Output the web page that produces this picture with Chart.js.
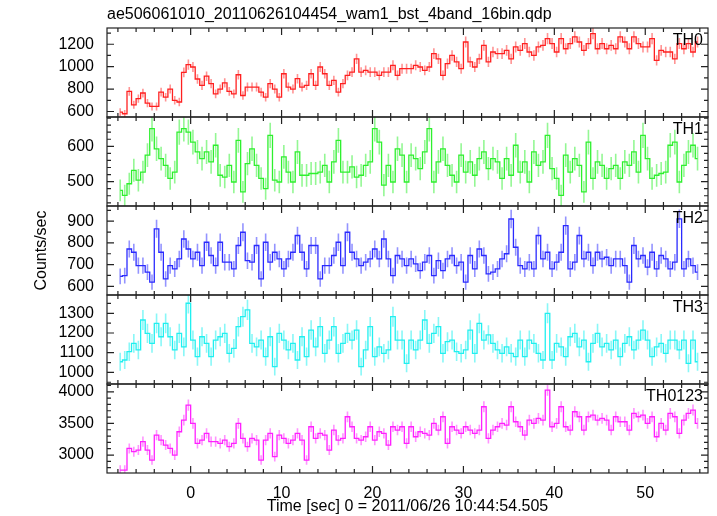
<!DOCTYPE html>
<html>
<head>
<meta charset="utf-8">
<title>WAM burst light curve</title>
<script src="https://cdn.jsdelivr.net/npm/chart.js@4.4.1/dist/chart.umd.min.js"></script>
<style>
  html, body { margin: 0; padding: 0; background: #fff; }
  #wrap { width: 717px; height: 516px; }
</style>
</head>
<body>
<div id="wrap"><canvas id="lc" width="717" height="516"></canvas></div>
<script>
// --- Données ---

// centres des bins (16 x 1/32 s = 0.5 s)
const TIME = [
  -7.75, -7.25, -6.75, -6.25, -5.75, -5.25, -4.75, -4.25, -3.75, -3.25, -2.75, -2.25, -1.75, -1.25, -0.75, -0.25,
  0.25, 0.75, 1.25, 1.75, 2.25, 2.75, 3.25, 3.75, 4.25, 4.75, 5.25, 5.75, 6.25, 6.75, 7.25, 7.75,
  8.25, 8.75, 9.25, 9.75, 10.25, 10.75, 11.25, 11.75, 12.25, 12.75, 13.25, 13.75, 14.25, 14.75, 15.25, 15.75,
  16.25, 16.75, 17.25, 17.75, 18.25, 18.75, 19.25, 19.75, 20.25, 20.75, 21.25, 21.75, 22.25, 22.75, 23.25, 23.75,
  24.25, 24.75, 25.25, 25.75, 26.25, 26.75, 27.25, 27.75, 28.25, 28.75, 29.25, 29.75, 30.25, 30.75, 31.25, 31.75,
  32.25, 32.75, 33.25, 33.75, 34.25, 34.75, 35.25, 35.75, 36.25, 36.75, 37.25, 37.75, 38.25, 38.75, 39.25, 39.75,
  40.25, 40.75, 41.25, 41.75, 42.25, 42.75, 43.25, 43.75, 44.25, 44.75, 45.25, 45.75, 46.25, 46.75, 47.25, 47.75,
  48.25, 48.75, 49.25, 49.75, 50.25, 50.75, 51.25, 51.75, 52.25, 52.75, 53.25, 53.75, 54.25, 54.75, 55.25, 55.75
];
const BIN_SEC = 0.5;

const TH0 = [
  595, 580, 780, 660, 715, 765, 675, 645, 645, 773, 728, 800, 700, 685, 950, 1018,
  997, 890, 833, 915, 848, 758, 800, 855, 780, 758, 928, 743, 818, 818, 818, 773,
  728, 848, 800, 728, 937, 818, 800, 893, 818, 833, 937, 833, 997, 937, 833, 878,
  773, 848, 922, 952, 1070, 952, 967, 952, 952, 922, 952, 952, 1012, 922, 982, 982,
  982, 1012, 997, 967, 997, 1116, 1070, 922, 1027, 1100, 1042, 982, 1220, 1042, 997, 1070,
  1190, 1042, 1131, 1116, 1116, 1146, 1070, 1176, 1146, 1206, 1131, 1100, 1176, 1190, 1250, 1206,
  1131, 1250, 1160, 1206, 1265, 1220, 1146, 1206, 1295, 1160, 1206, 1160, 1190, 1160, 1265, 1220,
  1160, 1265, 1206, 1176, 1176, 1250, 1057, 1146, 1131, 1131, 1070, 1206, 1160, 1206, 1131, 1220
];
const TH1 = [
  475, 461, 494, 532, 504, 527, 575, 650, 593, 565, 546, 509, 527, 640, 650, 640,
  612, 584, 565, 584, 556, 603, 518, 513, 546, 499, 617, 471, 551, 593, 546, 509,
  480, 631, 504, 499, 570, 527, 499, 584, 518, 518, 523, 523, 527, 546, 499, 556,
  617, 527, 527, 542, 513, 518, 546, 556, 650, 612, 490, 546, 499, 593, 575, 499,
  575, 565, 537, 584, 650, 499, 556, 593, 546, 518, 499, 575, 527, 556, 518, 565,
  584, 537, 565, 556, 509, 565, 518, 603, 527, 556, 499, 584, 546, 556, 631, 537,
  509, 461, 575, 527, 565, 546, 471, 612, 509, 556, 546, 509, 537, 546, 509, 556,
  546, 584, 527, 631, 565, 509, 518, 523, 527, 603, 612, 499, 546, 584, 603, 565
];
const TH2 = [
  646, 649, 772, 757, 695, 695, 665, 619, 865, 757, 634, 695, 680, 726, 818, 772,
  726, 757, 695, 803, 742, 695, 803, 711, 711, 680, 788, 849, 718, 711, 788, 634,
  803, 711, 757, 726, 680, 726, 757, 834, 757, 680, 788, 788, 634, 695, 695, 742,
  803, 695, 849, 757, 726, 695, 711, 726, 772, 726, 818, 726, 649, 742, 726, 695,
  726, 703, 672, 711, 742, 649, 718, 672, 726, 742, 695, 711, 619, 742, 680, 772,
  742, 657, 665, 680, 726, 750, 910, 780, 695, 680, 711, 680, 834, 726, 757, 680,
  711, 757, 880, 680, 711, 834, 726, 757, 695, 757, 726, 734, 695, 726, 726, 695,
  619, 788, 726, 742, 688, 757, 680, 742, 726, 680, 711, 911, 680, 726, 695, 665
];
const TH3 = [
  1054, 1063, 1105, 1147, 1114, 1266, 1198, 1147, 1249, 1181, 1249, 1181, 1114, 1198, 1130, 1351,
  1164, 1080, 1181, 1147, 1080, 1164, 1181, 1198, 1097, 1122, 1232, 1283, 1317, 1147, 1130, 1164,
  1080, 1181, 1029, 1198, 1164, 1114, 1147, 1063, 1181, 1080, 1215, 1130, 1232, 1097, 1164, 1232,
  1097, 1147, 1198, 1164, 1215, 1029, 1114, 1232, 1080, 1130, 1097, 1114, 1283, 1164, 1164, 1046,
  1164, 1114, 1164, 1266, 1147, 1198, 1232, 1097, 1156, 1164, 1105, 1097, 1114, 1215, 1097, 1249,
  1164, 1190, 1147, 1114, 1097, 1130, 1097, 1080, 1164, 1080, 1164, 1147, 1097, 1063, 1300, 1063,
  1147, 1130, 1080, 1181, 1198, 1130, 1164, 1054, 1147, 1198, 1130, 1147, 1114, 1164, 1080, 1147,
  1181, 1114, 1164, 1215, 1164, 1080, 1130, 1147, 1097, 1164, 1164, 1114, 1164, 1046, 1164, 1054
];
const TH0123 = [
  2763, 2763, 3105, 3053, 3079, 3211, 3079, 2921, 3316, 3237, 3158, 3105, 3000, 3368, 3553, 3789,
  3500, 3184, 3237, 3342, 3211, 3211, 3184, 3237, 3132, 3184, 3500, 3263, 3132, 3263, 3237, 2921,
  3237, 3342, 2974, 3316, 3263, 3184, 3237, 3342, 3237, 2921, 3447, 3263, 3342, 3316, 3079, 3395,
  3237, 3263, 3605, 3447, 3263, 3237, 3289, 3447, 3237, 3368, 3342, 3158, 3447, 3395, 3447, 3184,
  3447, 3289, 3368, 3342, 3316, 3500, 3395, 3605, 3184, 3447, 3395, 3342, 3447, 3395, 3342, 3395,
  3763, 3263, 3395, 3447, 3500, 3474, 3763, 3526, 3447, 3316, 3553, 3500, 3579, 3553, 4026, 3447,
  3500, 3763, 3447, 3395, 3684, 3605, 3395, 3605, 3632, 3553, 3579, 3553, 3395, 3605, 3526, 3526,
  3395, 3658, 3605, 3632, 3500, 3605, 3289, 3500, 3395, 3658, 3605, 3342, 3553, 3658, 3711, 3500
];

// graduations
const X_TICKS = [0, 10, 20, 30, 40, 50];
const TH0_TICKS = [600, 800, 1000, 1200];
const TH1_TICKS = [500, 600];
const TH2_TICKS = [600, 700, 800, 900];
const TH3_TICKS = [1000, 1100, 1200, 1300];
const TH0123_TICKS = [3000, 3500, 4000];

const TITLE = 'ae506061010_20110626104454_wam1_bst_4band_16bin.qdp';
const X_TITLE = 'Time [sec] 0 = 2011/06/26 10:44:54.505';
const Y_TITLE = 'Counts/sec';

// --- Mise en forme ---

const FONT = '"Liberation Sans", Arial, Helvetica, sans-serif';

const panels = [
  { id: 'yTH0',    name: 'TH0',    values: TH0,    ticks: TH0_TICKS,    minor: 100, min: 551,  max: 1345, line: '#ff2020', err: 'rgba(255,60,60,0.55)' },
  { id: 'yTH1',    name: 'TH1',    values: TH1,    ticks: TH1_TICKS,    minor: 20,  min: 431,  max: 683,  line: '#2ef02e', err: 'rgba(60,240,60,0.55)' },
  { id: 'yTH2',    name: 'TH2',    values: TH2,    ticks: TH2_TICKS,    minor: 50,  min: 560,  max: 970,  line: '#2a2aff', err: 'rgba(60,60,255,0.55)' },
  { id: 'yTH3',    name: 'TH3',    values: TH3,    ticks: TH3_TICKS,    minor: 50,  min: 941,  max: 1393, line: '#20f0f0', err: 'rgba(40,240,240,0.55)' },
  { id: 'yTH0123', name: 'TH0123', values: TH0123, ticks: TH0123_TICKS, minor: 100, min: 2716, max: 4123, line: '#ff20ff', err: 'rgba(255,60,255,0.55)' }
];

const scales = {
  x: {
    type: 'linear',
    position: 'bottom',
    min: -9.2,
    max: 56.9,
    grid: { display: false },
    border: { display: false },
    afterBuildTicks: s => { s.ticks = X_TICKS.map(v => ({ value: v })); },
    afterFit: s => { s.height = 43; },
    ticks: { color: '#000', padding: 3, autoSkip: false, maxRotation: 0, font: { family: FONT, size: 16 }, callback: v => String(v) }
  }
};

panels.forEach((p, k) => {
  scales[p.id] = {
    type: 'linear',
    position: 'left',
    stack: 'lc',
    stackWeight: 1,
    weight: panels.length - k,   // le premier panneau en haut
    min: p.min,
    max: p.max,
    grid: { display: false },
    border: { display: false },
    afterBuildTicks: s => { s.ticks = p.ticks.map(v => ({ value: v })); },
    afterFit: s => { s.width = 107; },
    ticks: { color: '#000', padding: 5, autoSkip: false, font: { family: FONT, size: 16 }, callback: v => String(v) }
  };
});

const datasets = panels.map(p => ({
  label: p.name,
  yAxisID: p.id,
  data: TIME.map((t, i) => ({ x: t, y: p.values[i] })),
  borderColor: p.line,
  borderWidth: 1.3,
  pointRadius: 0,
  stepped: 'middle',
  errColor: p.err,
  fill: false
}));

// Barres d'erreur (Poisson), cadres, graduations internes et textes façon QDP
const qdpFrame = {
  id: 'qdpFrame',
  beforeDatasetsDraw(chart) {
    const ctx = chart.ctx;
    const xs = chart.scales.x;
    const area = chart.chartArea;
    chart.data.datasets.forEach(ds => {
      const ys = chart.scales[ds.yAxisID];
      ctx.save();
      ctx.beginPath();
      ctx.rect(area.left, ys.top, area.right - area.left, ys.bottom - ys.top);
      ctx.clip();
      ctx.strokeStyle = ds.errColor;
      ctx.lineWidth = 1.6;
      ctx.beginPath();
      ds.data.forEach(pt => {
        const e = Math.sqrt(pt.y / BIN_SEC);
        const x = xs.getPixelForValue(pt.x);
        ctx.moveTo(x, ys.getPixelForValue(pt.y + e));
        ctx.lineTo(x, ys.getPixelForValue(pt.y - e));
      });
      ctx.stroke();
      ctx.restore();
    });
  },
  afterDraw(chart) {
    const ctx = chart.ctx;
    const xs = chart.scales.x;
    const area = chart.chartArea;
    ctx.save();
    ctx.strokeStyle = '#222';
    ctx.lineWidth = 1.2;

    panels.forEach(p => {
      const ys = chart.scales[p.id];
      const top = ys.top, bottom = ys.bottom;
      ctx.strokeRect(area.left, top, area.right - area.left, bottom - top);

      ctx.beginPath();
      // graduations Y (gauche et droite, vers l'intérieur)
      const first = Math.ceil(p.min / p.minor);
      const last = Math.floor(p.max / p.minor);
      for (let k = first; k <= last; k++) {
        const v = k * p.minor;
        const len = p.ticks.includes(v) ? 7 : 4;
        const y = ys.getPixelForValue(v);
        ctx.moveTo(area.left, y); ctx.lineTo(area.left + len, y);
        ctx.moveTo(area.right, y); ctx.lineTo(area.right - len, y);
      }
      // graduations X (haut et bas de chaque panneau)
      for (let k = Math.ceil(xs.min / 2); k <= Math.floor(xs.max / 2); k++) {
        const t = k * 2;
        const len = X_TICKS.includes(t) ? 7 : 4;
        const x = xs.getPixelForValue(t);
        ctx.moveTo(x, top); ctx.lineTo(x, top + len);
        ctx.moveTo(x, bottom); ctx.lineTo(x, bottom - len);
      }
      ctx.stroke();

      ctx.fillStyle = '#000';
      ctx.font = '16px ' + FONT;
      ctx.textAlign = 'right';
      ctx.textBaseline = 'alphabetic';
      ctx.fillText(p.name, area.right - 5, top + 17);
    });

    ctx.fillStyle = '#000';
    ctx.font = '16px ' + FONT;
    ctx.textAlign = 'left';
    ctx.textBaseline = 'alphabetic';
    ctx.fillText(TITLE, area.left, 19);

    ctx.textAlign = 'center';
    ctx.fillText(X_TITLE, (area.left + area.right) / 2, 511);

    ctx.translate(46, (area.top + area.bottom) / 2);
    ctx.rotate(-Math.PI / 2);
    ctx.fillText(Y_TITLE, 0, 0);
    ctx.restore();
  }
};

new Chart(document.getElementById('lc'), {
  type: 'line',
  data: { datasets },
  options: {
    responsive: false,
    animation: false,
    devicePixelRatio: 1,
    parsing: false,
    layout: { padding: { left: 0, right: 9, top: 28, bottom: 0 } },
    plugins: { legend: { display: false }, title: { display: false }, tooltip: { enabled: false } },
    scales
  },
  plugins: [qdpFrame]
});
</script>
</body>
</html>
